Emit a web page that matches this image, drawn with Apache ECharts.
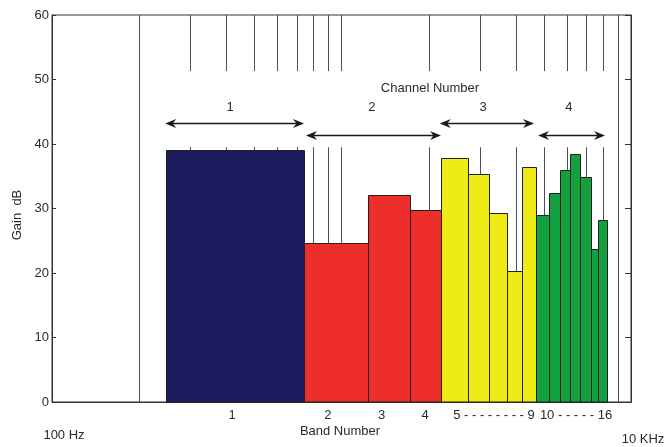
<!DOCTYPE html>
<html><head><meta charset="utf-8">
<script src="https://cdn.jsdelivr.net/npm/echarts@6/dist/echarts.min.js"></script>
<style>html,body{margin:0;padding:0;background:#fff}#c{width:667px;height:447px}</style>
</head><body><div id="c"></div>
<script>
// ---- data ----
const bandEdgesHz = [248, 742, 1235, 1724, 2215, 2729, 3224, 3721, 4203, 4697, 5211, 5684, 6155, 6665, 7257, 7691, 8243];
const bandGainDb  = [39.1, 24.6, 32.1, 29.8, 37.9, 35.4, 29.3, 20.3, 36.5, 29.0, 32.4, 36.0, 38.5, 34.9, 23.7, 28.2];
const bandChannel = [1, 2, 2, 2, 3, 3, 3, 3, 3, 4, 4, 4, 4, 4, 4, 4];
const gridFreqsHz = [200, 300, 400, 500, 600, 700, 800, 900, 1000, 2000, 3000, 4000, 5000, 6000, 7000, 8000, 9000];
const channelNames = ['1', '2', '3', '4'];
const channelFromHz = [246, 754, 2185, 4775];
const channelToHz   = [742, 2206, 4624, 8132];
const channelArrowDb = [43.3, 41.4, 43.3, 41.4];
const channelLabelHz = [412, 1272, 3082, 6106];
const channelLabelDb = 45.7;
const bandLabels   = ['1', '2', '3', '4', '5 - - - - - - - - 9', '10 - - - - - 16'];
const bandLabelHz  = [419, 898, 1376, 1943, 3363, 6457];
const yTicksDb = [0, 10, 20, 30, 40, 50, 60];
const freqMinHz = 100, freqMaxHz = 10000;
// annotation panel (grid lines are blank behind the channel arrows)
const panelFromHz = 220, panelToHz = 8500, panelLowDb = 39.5, panelHighDb = 51.3;

const channelColors = ['#1d1b5f', '#ee2e2a', '#efeb17', '#13a03f'];
const FONT = '13px "Liberation Sans", Arial, sans-serif';
const TXT = '#2a2a2a';

const chart = echarts.init(document.getElementById('c'), null, {renderer: 'canvas'});
const crisp = v => Math.round(v) + 0.5;

function gridItem(params, api) {
  const f = api.value(0);
  const x = crisp(api.coord([f, 0])[0]);
  const yTop = api.coord([f, yTicksDb[yTicksDb.length - 1]])[1];
  const yBot = api.coord([f, 0])[1];
  const st = {stroke: '#505050', lineWidth: 1};
  if (f > panelFromHz && f < panelToHz) {
    const yh = api.coord([f, panelHighDb])[1];
    const yl = api.coord([f, panelLowDb])[1];
    return {type: 'group', children: [
      {type: 'line', shape: {x1: x, y1: yTop, x2: x, y2: yh}, style: st},
      {type: 'line', shape: {x1: x, y1: yl, x2: x, y2: yBot}, style: st}
    ]};
  }
  return {type: 'line', shape: {x1: x, y1: yTop, x2: x, y2: yBot}, style: st};
}

function barItem(params, api) {
  const p0 = api.coord([api.value(0), 0]);
  const p1 = api.coord([api.value(1), api.value(2)]);
  const ch = api.value(3);
  const x0 = crisp(p0[0]), x1 = crisp(p1[0]), y1 = crisp(p1[1]), y0 = p0[1];
  return {type: 'rect', shape: {x: x0, y: y1, width: x1 - x0, height: y0 - y1},
    style: {fill: channelColors[ch - 1], stroke: '#202020', lineWidth: 1}};
}

function arrowHead(tx, ty, dir) {
  const L = 11, W = 4.5, N = 7.5;
  return {type: 'polygon', shape: {points: [
    [tx, ty], [tx - dir * L, ty - W], [tx - dir * N, ty], [tx - dir * L, ty + W]
  ]}, style: {fill: '#1a1a1a'}};
}

function arrowItem(params, api) {
  const a = api.coord([api.value(0), api.value(2)]);
  const b = api.coord([api.value(1), api.value(2)]);
  const y = Math.round(a[1]) + 0.5;
  return {type: 'group', children: [
    {type: 'line', shape: {x1: a[0] + 5, y1: y, x2: b[0] - 5, y2: y}, style: {stroke: '#1a1a1a', lineWidth: 1.4}},
    arrowHead(a[0], y, -1),
    arrowHead(b[0], y, 1)
  ]};
}

function textItemFactory(texts, offsetY) {
  return function (params, api) {
    const p = api.coord([api.value(0), api.value(1)]);
    return {type: 'text', x: p[0], y: p[1] + offsetY, style: {
      text: texts[params.dataIndex], font: FONT, fill: TXT, align: 'center', verticalAlign: 'middle'}};
  };
}

const option = {
  backgroundColor: '#fff',
  animation: false,
  grid: {left: 52, right: 36, top: 15, bottom: 45, show: true, borderColor: '#333', borderWidth: 1, backgroundColor: 'transparent'},
  xAxis: {type: 'log', logBase: 10, min: freqMinHz, max: freqMaxHz,
    axisLine: {show: true, lineStyle: {color: '#333'}}, axisTick: {show: false}, axisLabel: {show: false}, splitLine: {show: false}},
  yAxis: [
    {type: 'value', min: yTicksDb[0], max: yTicksDb[yTicksDb.length - 1], interval: 10,
      axisLine: {show: true, lineStyle: {color: '#333'}},
      axisTick: {show: true, inside: true, length: 4, lineStyle: {color: '#333'}},
      axisLabel: {show: true, margin: 3, color: TXT, fontSize: 13, fontFamily: '"Liberation Sans", Arial, sans-serif'},
      splitLine: {show: false}},
    {type: 'value', position: 'right', min: yTicksDb[0], max: yTicksDb[yTicksDb.length - 1], interval: 10,
      axisLine: {show: true, lineStyle: {color: '#333'}},
      axisTick: {show: true, inside: true, length: 6, lineStyle: {color: '#333'}},
      axisLabel: {show: false}, splitLine: {show: false}}
  ],
  series: [
    {type: 'custom', name: 'grid', renderItem: gridItem, z: 1,
      encode: {x: 0, y: 1}, data: gridFreqsHz.map(f => [f, 0])},
    {type: 'custom', name: 'bands', renderItem: barItem, z: 2,
      encode: {x: [0, 1], y: 2},
      data: bandGainDb.map((g, i) => [bandEdgesHz[i], bandEdgesHz[i + 1], g, bandChannel[i]])},
    {type: 'custom', name: 'channels', renderItem: arrowItem, z: 3,
      encode: {x: [0, 1], y: 2},
      data: channelArrowDb.map((d, i) => [channelFromHz[i], channelToHz[i], d])},
    {type: 'custom', name: 'channelLabels', renderItem: textItemFactory(channelNames, 0), z: 3,
      encode: {x: 0, y: 1}, data: channelLabelHz.map(f => [f, channelLabelDb])},
    {type: 'custom', name: 'bandLabels', renderItem: textItemFactory(bandLabels, 13), z: 3, clip: false,
      encode: {x: 0, y: 1}, data: bandLabelHz.map(f => [f, 0])}
  ],
  graphic: [
    {type: 'text', x: 430, y: 88, style: {text: 'Channel Number', font: FONT, fill: TXT, align: 'center', verticalAlign: 'middle'}},
    {type: 'text', x: 340, y: 431, style: {text: 'Band Number', font: FONT, fill: TXT, align: 'center', verticalAlign: 'middle'}},
    {type: 'text', x: 64, y: 435, style: {text: '100 Hz', font: FONT, fill: TXT, align: 'center', verticalAlign: 'middle'}},
    {type: 'text', x: 643, y: 439, style: {text: '10 KHz', font: FONT, fill: TXT, align: 'center', verticalAlign: 'middle'}},
    {type: 'text', x: 17, y: 215, rotation: Math.PI / 2, style: {text: 'Gain  dB', font: FONT, fill: TXT, align: 'center', verticalAlign: 'middle'}}
  ]
};
chart.setOption(option);
</script>
</body></html>
